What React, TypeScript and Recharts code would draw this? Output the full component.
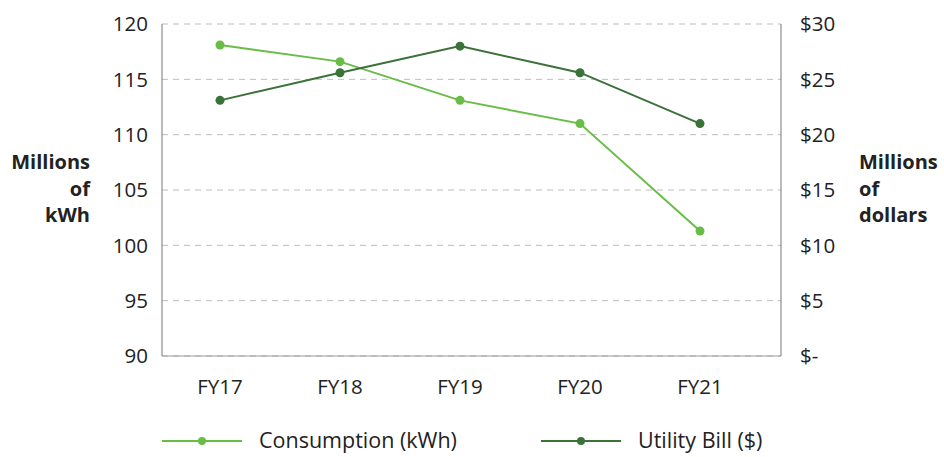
import React from "react";
import {
  LineChart,
  Line,
  XAxis,
  YAxis,
  CartesianGrid,
  Legend,
  Label,
} from "recharts";

const years = ["FY17", "FY18", "FY19", "FY20", "FY21"];
const consumption = [118.1, 116.6, 113.1, 111.0, 101.3];
const utilityBill = [23.1, 25.6, 28.0, 25.6, 21.0];
const kwhTicks = [90, 95, 100, 105, 110, 115, 120];
const dollarTicks = [0, 5, 10, 15, 20, 25, 30];

const LIGHT = "#68bd46";
const DARK = "#3a7238";
const FONT = "'Open Sans', sans-serif";

const data = years.map((year, i) => ({
  year,
  consumption: consumption[i],
  bill: utilityBill[i],
}));

const legendItems = [
  { label: "Consumption (kWh)", color: LIGHT, x: 162 },
  { label: "Utility Bill ($)", color: DARK, x: 541 },
];

const renderLegend = () => (
  <svg width={944} height={47} style={{ display: "block" }}>
    {legendItems.map((item) => (
      <g key={item.label}>
        <line x1={item.x} x2={item.x + 80} y1={31} y2={31} stroke={item.color} strokeWidth={2} />
        <circle cx={item.x + 40} cy={31} r={4} fill={item.color} />
        <text x={item.x + 97} y={38} fontSize={21.5} fill="#222" fontFamily={FONT}>
          {item.label}
        </text>
      </g>
    ))}
  </svg>
);

const axisTitle = (lines: string[], x: number, anchor: "start" | "end") => () => (
  <text fontSize={20} fontWeight="bold" fill="#222" fontFamily={FONT} textAnchor={anchor}>
    {lines.map((l, i) => (
      <tspan key={l} x={x} y={169 + i * 26.5}>
        {l}
      </tspan>
    ))}
  </text>
);

export default function App() {
  return (
    <div style={{ position: "absolute", left: 0, top: 0, background: "#fff" }}>
      <LineChart
        width={944}
        height={457}
        data={data}
        margin={{ top: 24, right: 0, left: 0, bottom: 0 }}
      >
        <CartesianGrid
          yAxisId="left"
          vertical={false}
          stroke="#bdbdbd"
          strokeDasharray="6 5"
        />
        <XAxis
          dataKey="year"
          height={54}
          padding={{ left: 58, right: 81 }}
          tickLine={false}
          tickSize={0}
          tickMargin={23}
          stroke="#999"
          tick={{ fill: "#222", fontSize: 20.5, fontFamily: FONT }}
        />
        <YAxis
          yAxisId="left"
          width={162}
          domain={[90, 120]}
          ticks={kwhTicks}
          interval={0}
          tickLine={false}
          tickSize={0}
          tickMargin={14}
          stroke="#777"
          tick={{ fill: "#222", fontSize: 20.5, fontFamily: FONT }}
        >
          <Label content={axisTitle(["Millions", "of", "kWh"], 90, "end")} />
        </YAxis>
        <YAxis
          yAxisId="right"
          orientation="right"
          width={163}
          domain={[0, 30]}
          ticks={dollarTicks}
          interval={0}
          tickLine={false}
          tickSize={0}
          tickMargin={19}
          stroke="#777"
          tickFormatter={(v: number) => (v === 0 ? "$-" : `$${v}`)}
          tick={{ fill: "#222", fontSize: 20.5, fontFamily: FONT, textAnchor: "start" }}
        >
          <Label content={axisTitle(["Millions", "of", "dollars"], 859, "start")} />
        </YAxis>
        <Legend verticalAlign="bottom" height={47} content={renderLegend} />
        <Line
          yAxisId="left"
          dataKey="consumption"
          name="Consumption (kWh)"
          stroke={LIGHT}
          strokeWidth={2}
          dot={{ r: 4.5, fill: LIGHT, stroke: LIGHT, strokeWidth: 0 }}
          isAnimationActive={false}
        />
        <Line
          yAxisId="right"
          dataKey="bill"
          name="Utility Bill ($)"
          stroke={DARK}
          strokeWidth={2}
          dot={{ r: 4.5, fill: DARK, stroke: DARK, strokeWidth: 0 }}
          isAnimationActive={false}
        />
      </LineChart>
    </div>
  );
}
